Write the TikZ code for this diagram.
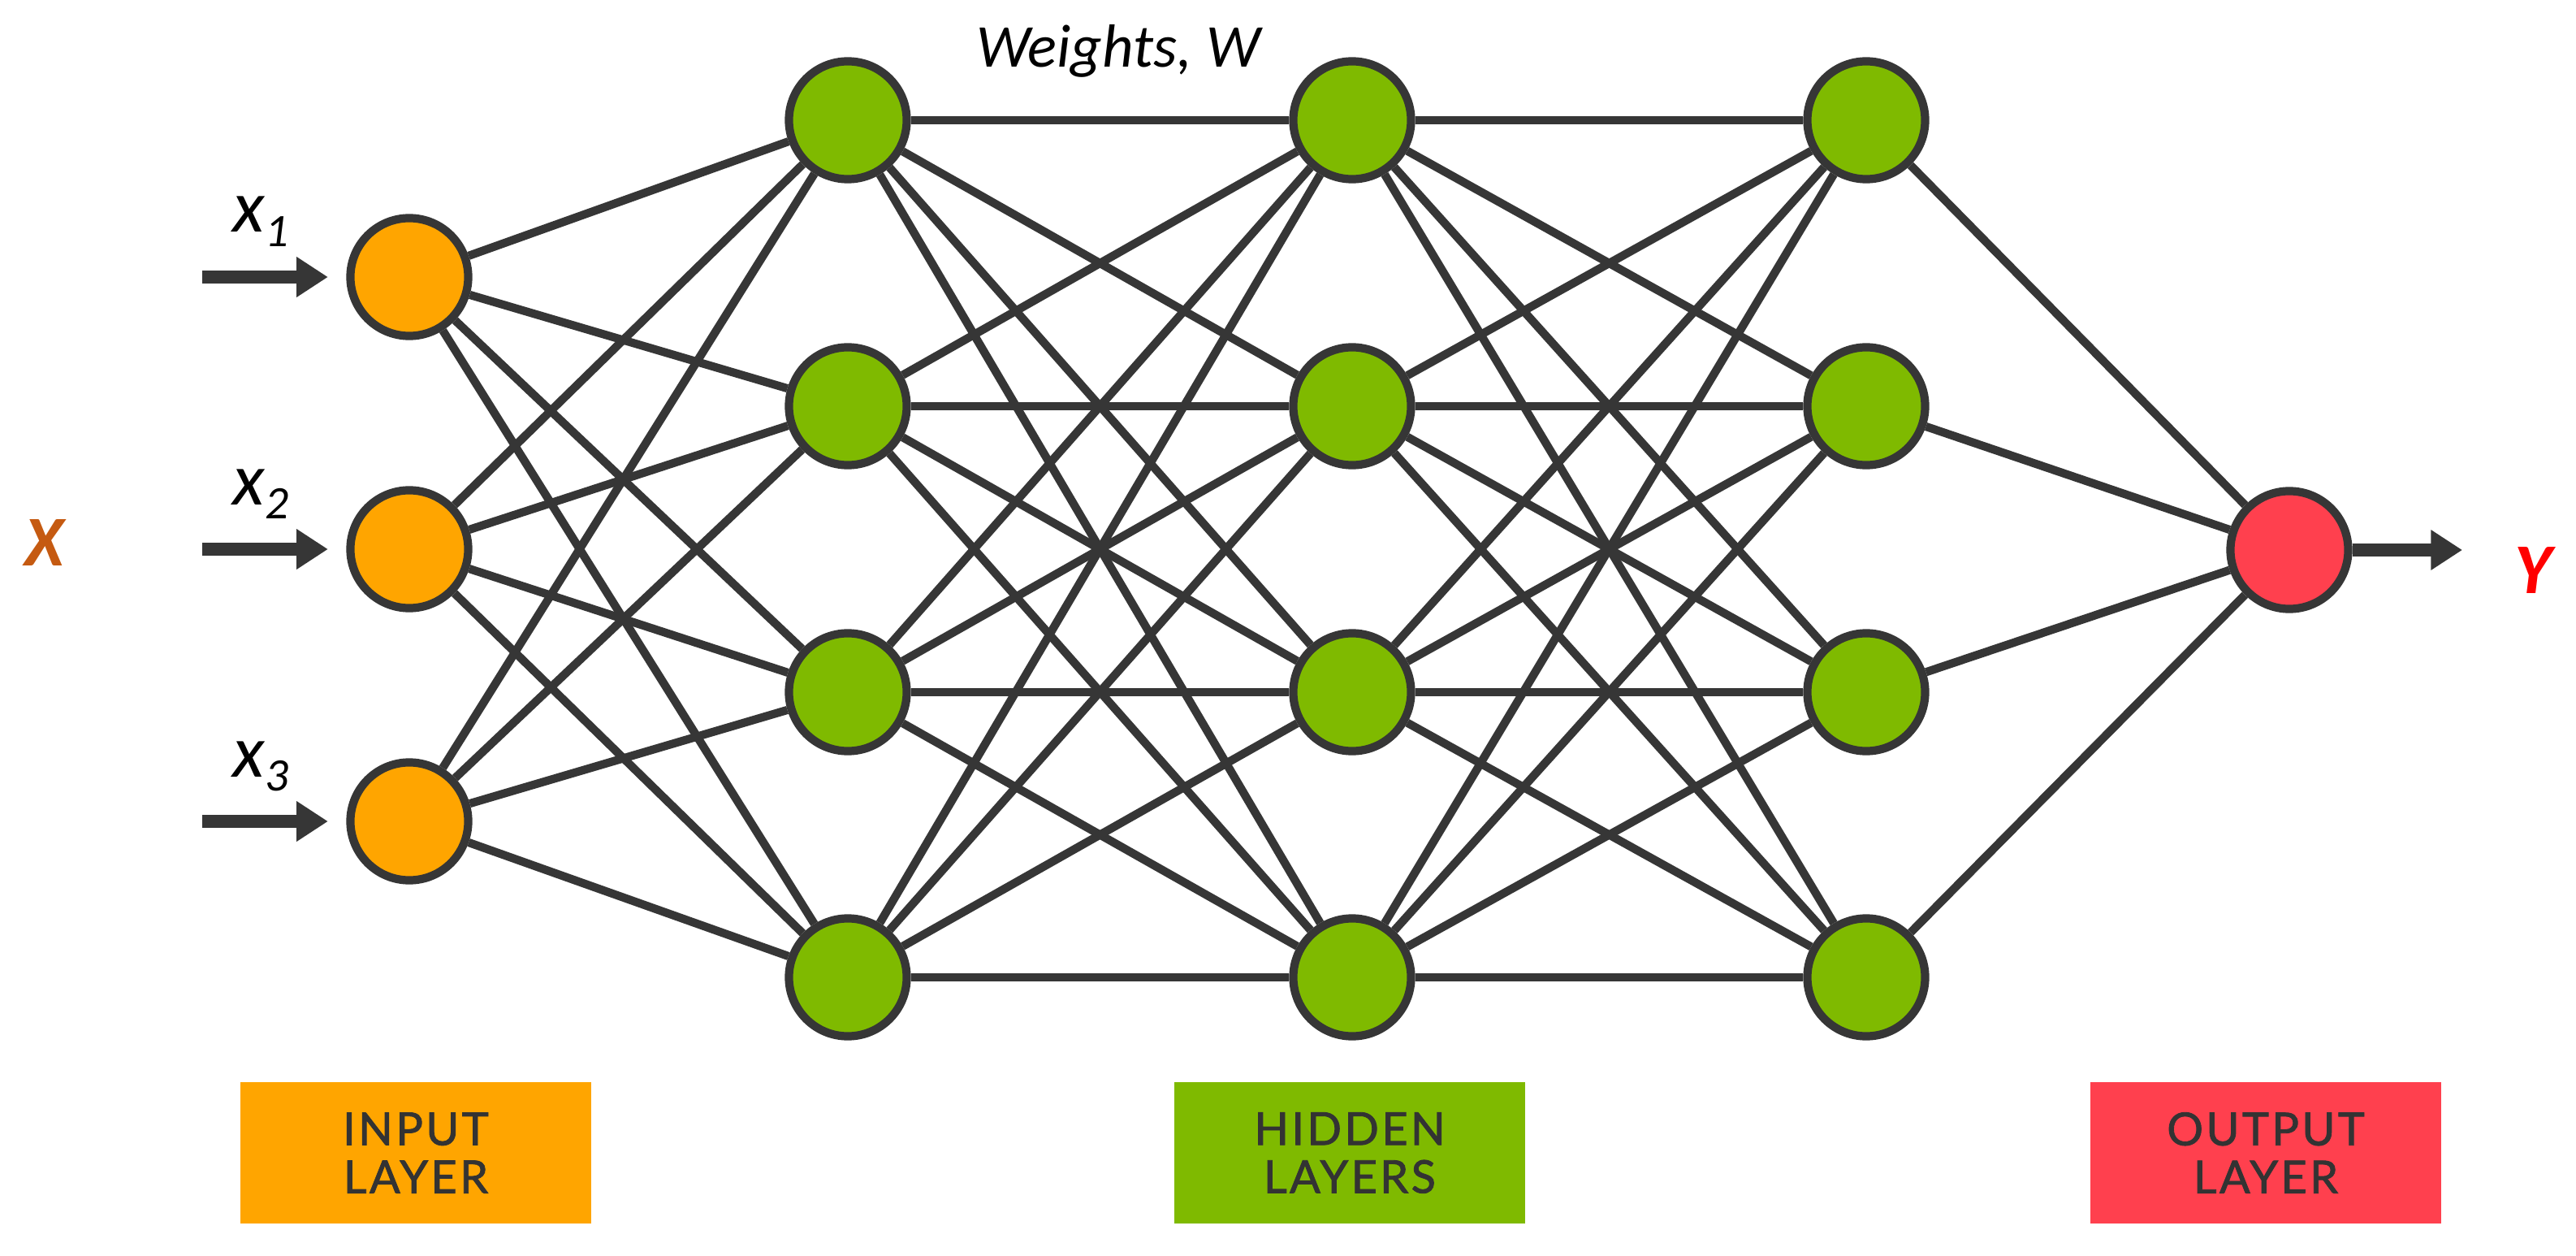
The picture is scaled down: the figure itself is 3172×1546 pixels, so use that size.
\documentclass[tikz,border=0pt]{standalone}
\usepackage{fontspec}
\setmainfont{Carlito}
\newfontfamily\boxfont[LetterSpace=6, FakeBold=1.5]{Lato}
\usetikzlibrary{arrows.meta}
\definecolor{cLine}{HTML}{363636}
\definecolor{cOrange}{HTML}{FFA500}
\definecolor{cGreen}{HTML}{7FBA00}
\definecolor{cRed}{HTML}{FF404E}
\definecolor{cBrown}{HTML}{C55A11}
\definecolor{cText}{HTML}{333333}
\tikzset{>={Triangle[length=11pt, width=13.4pt]}}
\tikzset{
	neuron/.style={circle, draw=cLine, line width=2.9pt, minimum size=1.45cm, inner sep=0pt},
	link/.style={draw=cLine, line width=2.9pt},
	feed/.style={draw=cLine, line width=4.8pt, ->},
	lbl/.style={inner sep=0pt, font=\itshape\fontsize{26}{26}\selectfont},
	bigvar/.style={inner sep=0pt, font=\bfseries\itshape\fontsize{25}{25}\selectfont},
	layerbox/.style={minimum width=4.32cm, minimum height=1.74cm, inner sep=0pt, align=center, text=cText, font=\boxfont\fontsize{15.9}{16.8}\selectfont},
}
\newcommand{\insub}[1]{\raisebox{-0.17cm}{\fontsize{16.3}{16.3}\selectfont #1}}

\begin{document}
\begin{tikzpicture}[x=0.01cm, y=-0.01cm]
		\useasboundingbox (0,0) rectangle (3172,1546);
		%input layer
		\foreach \i/\y in {1/341,2/676,3/1011}
		{
			\node [neuron, fill=cOrange] (in\i) at (504,\y) {};
			\coordinate (src\i) at (249,\y);
			\draw [feed] (src\i) -- ([xshift=-0.225cm]in\i.west);
			\node [lbl, anchor=base west] (x\i) at (286,\y-55) {x\insub{\i}};
		}
		%hidden layers
		\foreach \c/\x in {a/1044,b/1665,c/2298}
		{
			\foreach \j/\y in {1/148,2/500,3/852,4/1203}
			{
				\node [neuron, fill=cGreen] (h\c\j) at (\x,\y) {};
			}
		}
		%output layer
		\node [neuron, fill=cRed] (out) at (2819,677) {};
		\coordinate (dst) at (3032,677);
		\draw [feed] (out) -- (dst);
		
		%weights
		\foreach \i in {1,2,3}
		{
			\foreach \j in {1,...,4}
			{
				\draw [link] (in\i) -- (ha\j);
			}
		}
		\foreach \i in {1,...,4}
		{
			\foreach \j in {1,...,4}
			{
				\draw [link] (ha\i) -- (hb\j);
				\draw [link] (hb\i) -- (hc\j);
			}
			\draw [link] (hc\i) -- (out);
		}
		
		%labels
		\node [lbl, anchor=base, font=\itshape\fontsize{21.3}{21.3}\selectfont] (wlab) at (1377,83) {Weights, W};
		\node [bigvar, text=cBrown] (xlab) at (55,668) {X};
		\node [bigvar, text=red] (ylab) at (3119,702) {Y};
		\node [layerbox, fill=cOrange] (inbox) at (512,1419) {INPUT\\LAYER};
		\node [layerbox, fill=cGreen] (hidbox) at (1662,1419) {HIDDEN\\LAYERS};
		\node [layerbox, fill=cRed] (outbox) at (2790,1419) {OUTPUT\\LAYER};
\end{tikzpicture}
\end{document}
